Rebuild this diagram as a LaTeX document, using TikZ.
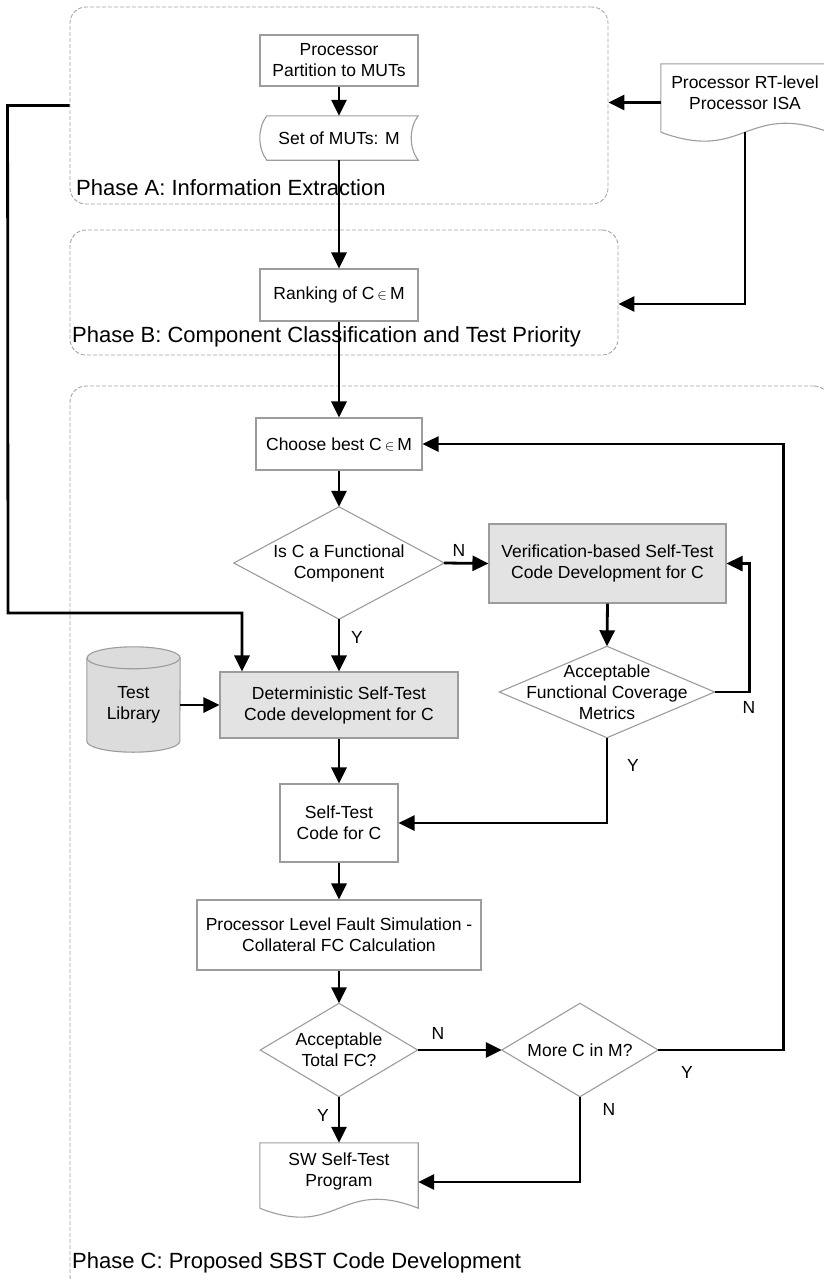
\documentclass[tikz,border=0pt]{standalone}
\usepackage{fontspec}
\setmainfont{Liberation Sans}
\usetikzlibrary{arrows.meta}

\definecolor{edgegray}{HTML}{9C9C9C}
\definecolor{boxfill}{HTML}{E3E3E3}
\definecolor{libfill}{HTML}{DCDCDC}
\definecolor{phasegray}{HTML}{A5A5A5}

\tikzset{
  txt/.style={font=\fontsize{17.5}{21}\selectfont, align=center, text=black},
  procbox/.style={txt, draw=edgegray, line width=1.1pt, inner sep=0pt},
  greybox/.style={procbox, fill=boxfill},
  plaintxt/.style={txt, inner sep=0pt},
  shapeline/.style={draw=edgegray, line width=1.1pt},
  phasebox/.style={draw=phasegray, dash pattern=on 4pt off 2pt, line width=0.9pt,
                   rounded corners=16pt, inner sep=0pt},
  phaselbl/.style={font=\fontsize{22}{26}\selectfont, anchor=west, inner sep=0pt},
  flowarrow/.style={line width=2.8pt, black, -{Triangle[length=16pt,width=15pt]}},
  yesno/.style={font=\fontsize{17.5}{21}\selectfont, inner sep=0pt},
}

\begin{document}
\begin{tikzpicture}[x=1pt,y=-1pt]
\useasboundingbox (0,0) rectangle (823,1280);

% phase frames and their titles
\node[phasebox, minimum width=538pt, minimum height=197pt] (phaseA) at (339,105.5) {};
\node[phasebox, minimum width=548pt, minimum height=125pt] (phaseB) at (344,292.5) {};
\node[phasebox, minimum width=760pt, minimum height=906pt] (phaseC) at (450,839) {};
\node[phaselbl] (labA) at (76,188) {Phase A: Information Extraction};
\node[phaselbl] (labB) at (72,337) {Phase B: Component Classification and Test Priority};
\node[phaselbl] (labC) at (72,1263) {Phase C: Proposed SBST Code Development};

% phase A
\node[procbox, minimum width=158pt, minimum height=51pt] (part) at (339,60.5) {Processor\\Partition to MUTs};
\node[plaintxt, minimum width=158pt, minimum height=44pt] (muts) at (339,138) {Set of MUTs: M};
\draw[shapeline] ([xshift=7pt]muts.north west) -- (muts.north east)
  .. controls ([xshift=-9.3pt,yshift=-12pt]muts.north east) and ([xshift=-9.3pt,yshift=12pt]muts.south east) .. (muts.south east)
  -- ([xshift=7pt]muts.south west)
  .. controls ([xshift=-2.3pt,yshift=12pt]muts.south west) and ([xshift=-2.3pt,yshift=-12pt]muts.north west) .. ([xshift=7pt]muts.north west) -- cycle;

% input document
\node[plaintxt, minimum width=168pt, minimum height=68pt,
      label={[txt, yshift=5.5pt]center:{Processor RT-level\\Processor ISA}}] (spec) at (745,98) {};
\draw[shapeline] (spec.south west) -- (spec.north west) -- (spec.north east) -- (spec.south east)
  .. controls ([yshift=31pt]spec.south) and ([yshift=-31pt]spec.south) .. (spec.south west);

% phase B
\node[procbox, minimum width=158pt, minimum height=52pt] (rank) at (339,295) {Ranking of C\,{\fontsize{15}{15}\selectfont$\in$}\,M};

% phase C
\node[procbox, minimum width=166pt, minimum height=52pt] (choose) at (339,444) {Choose best C\,{\fontsize{15}{15}\selectfont$\in$}\,M};
\node[plaintxt, minimum width=210pt, minimum height=112pt] (d1) at (339,563) {Is C a Functional\\Component};
\node[greybox, minimum width=237pt, minimum height=79pt] (verif) at (607.5,563.5) {Verification-based Self-Test\\Code Development for C};
\node[plaintxt, minimum width=215pt, minimum height=91pt] (d2) at (607,692) {Acceptable\\Functional Coverage\\Metrics};
\node[greybox, minimum width=238pt, minimum height=66pt] (det) at (339,705) {Deterministic Self-Test\\Code development for C};
\node[plaintxt, minimum width=93pt, minimum height=83pt] (lib) at (133.5,699.5) {};
\node[procbox, minimum width=118pt, minimum height=78pt] (stc) at (339,823) {Self-Test\\Code for C};
\node[procbox, minimum width=284pt, minimum height=70pt] (fsim) at (339,935) {Processor Level Fault Simulation -\\Collateral FC Calculation};
\node[plaintxt, minimum width=157pt, minimum height=93pt] (d3) at (339,1050) {Acceptable\\Total FC?};
\node[plaintxt, minimum width=156pt, minimum height=93pt] (morec) at (580,1050) {More C in M?};
\node[plaintxt, minimum width=158pt, minimum height=65pt,
      label={[txt, yshift=4.5pt]center:{SW Self-Test\\Program}}] (swprog) at (339,1175.5) {};
\draw[shapeline] (swprog.south west) -- (swprog.north west) -- (swprog.north east) -- (swprog.south east)
  .. controls ([yshift=31pt]swprog.south) and ([yshift=-31pt]swprog.south) .. (swprog.south west);

% decision outlines
\foreach \n in {d1,d2,d3,morec}
  \draw[shapeline] (\n.north) -- (\n.east) -- (\n.south) -- (\n.west) -- cycle;

% test library cylinder, then its caption on top
\fill[libfill] (lib.north west) -- (lib.south west)
  arc[start angle=180, end angle=360, x radius=46.5pt, y radius=11pt]
  -- (lib.north east)
  arc[start angle=0, end angle=180, x radius=46.5pt, y radius=11pt] -- cycle;
\draw[shapeline] (lib.north west) -- (lib.south west)
  arc[start angle=180, end angle=360, x radius=46.5pt, y radius=11pt]
  -- (lib.north east)
  arc[start angle=0, end angle=180, x radius=46.5pt, y radius=11pt];
\draw[shapeline] (lib.north west)
  arc[start angle=180, end angle=360, x radius=46.5pt, y radius=11pt];
\node[txt, inner sep=0pt] (libtxt) at ([yshift=-5pt]lib.center) {Test\\Library};

% connector end points
\coordinate (specout) at ([yshift=-4.5pt]spec.west);
\coordinate (bin) at ([yshift=-11.5pt]phaseB.east);
\coordinate (detin) at ([xshift=-97pt]det.north);
\coordinate (swin) at ([yshift=-6.5pt]swprog.east);

% connectors
\draw[flowarrow] (part.south) -- (muts.north);
\draw[flowarrow] (muts.south) -- (rank.north);
\draw[flowarrow] (rank.south) -- (choose.north);
\draw[flowarrow] (specout) -- (specout -| phaseA.east);
\draw[flowarrow] (spec.south) |- (bin);
\draw[flowarrow] (phaseA.west) -- ++(-62,0) -- (8,613) -| (detin);
\draw[flowarrow] (choose.south) -- (d1.north);
\draw[flowarrow] (d1.east) -- (verif.west);
\draw[flowarrow] (d1.south) -- (det.north);
\draw[flowarrow] (lib.east |- det.west) -- (det.west);
\draw[flowarrow] (verif.south) -- (d2.north);
\draw[flowarrow] (d2.east) -- ++(35,0) |- (verif.east);
\draw[flowarrow] (d2.south) |- (stc.east);
\draw[flowarrow] (det.south) -- (stc.north);
\draw[flowarrow] (stc.south) -- (fsim.north);
\draw[flowarrow] (fsim.south) -- (d3.north);
\draw[flowarrow] (d3.east) -- (morec.west);
\draw[flowarrow] (d3.south) -- (swprog.north);
\draw[flowarrow] (morec.south) |- (swin);
\draw[flowarrow] (morec.east) -- ++(125,0) |- (choose.east);

% branch labels
\node[yesno] (n1) at (459,550) {N};
\node[yesno] (y1) at (357,637) {Y};
\node[yesno] (n2) at (749,707) {N};
\node[yesno] (y2) at (633,765) {Y};
\node[yesno] (n3) at (438,1033) {N};
\node[yesno] (y3) at (323,1115) {Y};
\node[yesno] (n4) at (609,1109) {N};
\node[yesno] (y4) at (687,1072) {Y};
\end{tikzpicture}
\end{document}
